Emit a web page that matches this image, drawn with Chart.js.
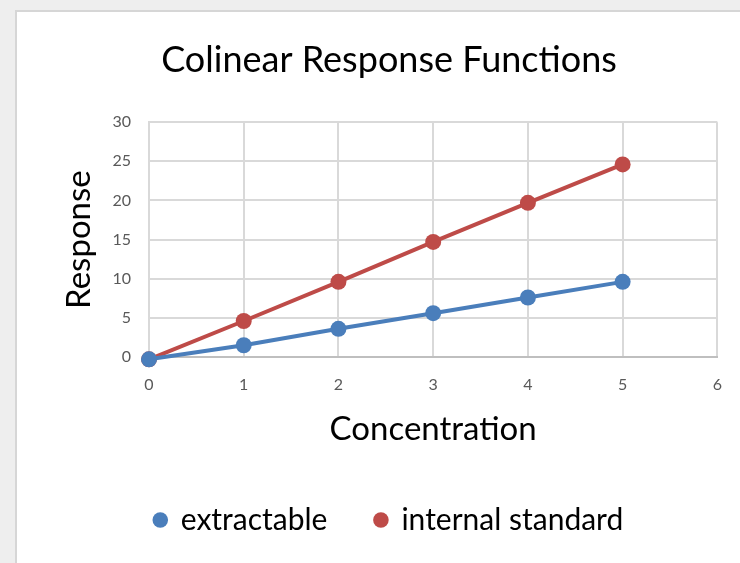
<!DOCTYPE html>
<html>
<head>
<meta charset="utf-8">
<script src="https://cdn.jsdelivr.net/npm/chart.js@4.4.1/dist/chart.umd.min.js"></script>
<style>
  html, body { margin: 0; padding: 0; width: 740px; height: 563px; overflow: hidden; background: #eeeeee; }
  #box { position: absolute; left: 15px; top: 10px; width: 740px; height: 560px; background: #ffffff; border-left: 2px solid #d6d6d6; border-top: 2px solid #d6d6d6; }
  #wrap { position: absolute; left: 0; top: 0; width: 740px; height: 563px; }
</style>
</head>
<body>
<div id="box"></div>
<div id="wrap"><canvas id="c" width="740" height="563"></canvas></div>
<script>
const concentration = [0, 1, 2, 3, 4, 5];
const extractable = [-0.3, 1.5, 3.6, 5.6, 7.6, 9.6];
const internalStandard = [-0.3, 4.6, 9.6, 14.7, 19.7, 24.6];
const seriesNames = ["extractable", "internal standard"];
const chartTitle = "Colinear Response Functions";
const xTitle = "Concentration";
const yTitle = "Response";

const BLUE = "#4a7ebb";
const RED = "#be4b48";
const FONT = "Lato, 'Open Sans', sans-serif";

const toPts = (ys) => concentration.map((x, i) => ({ x, y: ys[i] }));

new Chart(document.getElementById("c"), {
  type: "line",
  data: {
    datasets: [
      { label: seriesNames[0], data: toPts(extractable), borderColor: BLUE, backgroundColor: BLUE,
        borderWidth: 4, pointRadius: 8, pointHoverRadius: 8, pointBorderWidth: 0, clip: false },
      { label: seriesNames[1], data: toPts(internalStandard), borderColor: RED, backgroundColor: RED,
        borderWidth: 4, pointRadius: 8, pointHoverRadius: 8, pointBorderWidth: 0, clip: false }
    ]
  },
  options: {
    responsive: false,
    animation: false,
    events: [],
    layout: { padding: { left: 60, right: 22, top: 0, bottom: 18 } },
    plugins: {
      title: { display: true, text: chartTitle, color: "#000000",
        font: { family: FONT, size: 36, weight: "normal" }, padding: { top: 39, bottom: 40 } },
      legend: { display: true, position: "bottom",
        labels: { usePointStyle: true, pointStyle: "circle", boxWidth: 11, boxHeight: 11, padding: 48,
          color: "#000000", font: { family: FONT, size: 30 } } },
      tooltip: { enabled: false }
    },
    scales: {
      x: { type: "linear", min: 0, max: 6,
        ticks: { stepSize: 1, color: "#595959", padding: 18, font: { family: FONT, size: 16 } },
        grid: { color: "#d9d9d9", lineWidth: 2, drawTicks: false },
        border: { color: "#bfbfbf", width: 2 },
        title: { display: true, text: xTitle, color: "#000000", font: { family: FONT, size: 33 }, padding: { top: 0, bottom: 8 } },
        afterFit: (s) => { s.height = 100; } },
      y: { type: "linear", min: 0, max: 30,
        ticks: { stepSize: 5, color: "#595959", padding: 18, font: { family: FONT, size: 16 } },
        grid: { color: "#d9d9d9", lineWidth: 2, drawTicks: false },
        border: { color: "#d9d9d9", width: 2 },
        title: { display: true, text: yTitle, color: "#000000", font: { family: FONT, size: 33 }, padding: { top: 0, bottom: 0 } },
        afterFit: (s) => { s.width = 89; } }
    }
  }
});
</script>
</body>
</html>
